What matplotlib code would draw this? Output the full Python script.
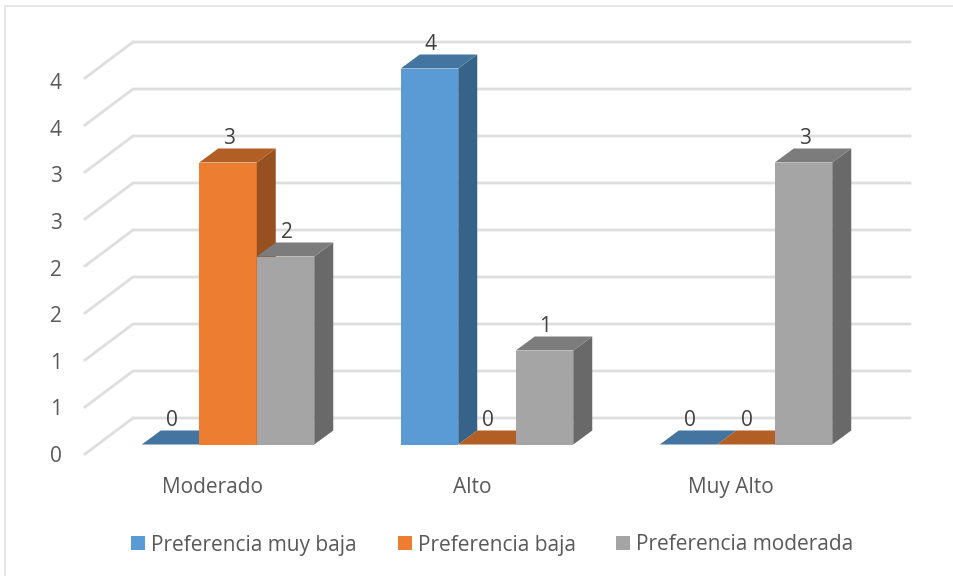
import numpy as np
import matplotlib
matplotlib.use("Agg")
import matplotlib.pyplot as plt
from matplotlib.patches import Polygon, Rectangle

categories = ["Moderado", "Alto", "Muy Alto"]
series_names = ["Preferencia muy baja", "Preferencia baja", "Preferencia moderada"]
muy_baja = [0, 4, 0]
baja = [3, 0, 0]
moderada = [2, 1, 3]
y_ticks = [0, 0.5, 1, 1.5, 2, 2.5, 3, 3.5, 4]
y_labels = ["0", "1", "1", "2", "2", "3", "3", "4", "4"]

front = ["#5b9bd5", "#ed7d31", "#a5a5a5"]
top = ["#4475a0", "#b25e25", "#7c7c7c"]
side = ["#376389", "#97501f", "#696969"]
grid_col = "#dedede"
text_col = "#595959"
font = "Open Sans"
fs = 15

W, H = 954, 577
fig = plt.figure(figsize=(W / 100, H / 100), dpi=100)
# axes = front plane of the 3d box, in pixels of the picture
left, right, y0, y4 = 85, 862, 454, 78
ax = fig.add_axes([left / W, 1 - y0 / H, (right - left) / W, (y0 - y4) / H])
ax.set_xlim(0, 3)
ax.set_ylim(0, 4)
ax.axis("off")

px = 3 / (right - left)
py = 4 / (y0 - y4)
# wall depth and bar depth
wall_dx, wall_dy = 48 * px, 36 * py
bar_dx, bar_dy = 19 * px, 14 * py
base = 9.5 * py
shift = 13.5 * px
bar_w = 57.5 * px

for t, lab in zip(y_ticks, y_labels):
    ax.plot([0, wall_dx, 3 + wall_dx], [t, t + wall_dy, t + wall_dy], color=grid_col,
            lw=2, clip_on=False, solid_joinstyle="miter", zorder=1)
    ax.text(-23 * px, t * 0.992 - 8 * py, lab, ha="right", va="baseline", fontsize=fs,
            color=text_col, family=font, clip_on=False)

for i, cat in enumerate(categories):
    ax.text(i + 0.5 - 1.5 * px, -39 * py, cat, ha="center", va="baseline", fontsize=fs,
            color=text_col, family=font)
    for j, vals in enumerate([muy_baja, baja, moderada]):
        v = vals[i]
        x = i + 0.5 + shift + (j - 1.5) * bar_w
        b = base
        ax.add_patch(Rectangle((x, b), bar_w, v, fc=front[j], ec="none", zorder=3 + j,
                               clip_on=False))
        ax.add_patch(Polygon([(x + bar_w, b), (x + bar_w + bar_dx, b + bar_dy),
                              (x + bar_w + bar_dx, b + bar_dy + v), (x + bar_w, b + v)],
                             fc=side[j], ec="none", zorder=3 + j, clip_on=False))
        ax.add_patch(Polygon([(x, b + v), (x + bar_dx, b + v + bar_dy),
                              (x + bar_w + bar_dx, b + v + bar_dy), (x + bar_w, b + v)],
                             fc=top[j], ec="none", zorder=3 + j, clip_on=False))
        ax.text(x + bar_w / 2 + 1 * px, b + v + bar_dy + 4.5 * py, str(v), ha="center",
                va="baseline", fontsize=fs, color="#404040", family=font, zorder=10)

# legend drawn by hand, Excel style
leg_x = [131, 398, 616]
for x, name, c in zip(leg_x, series_names, front):
    fig.patches.append(Rectangle((x / W, 1 - 550 / H), 14 / W, 14 / H, fc=c, ec="none",
                                 transform=fig.transFigure))
    fig.text((x + 20) / W, 1 - 550.5 / H, name, ha="left", va="baseline", fontsize=fs,
             color=text_col, family=font)

# chart border
fig.add_artist(plt.Line2D([5 / W, 5 / W, 1], [1 - 575 / H, 1 - 6 / H, 1 - 6 / H],
                          color="#e2e2e2", lw=1.2))

fig.savefig("out.png", dpi=100)
